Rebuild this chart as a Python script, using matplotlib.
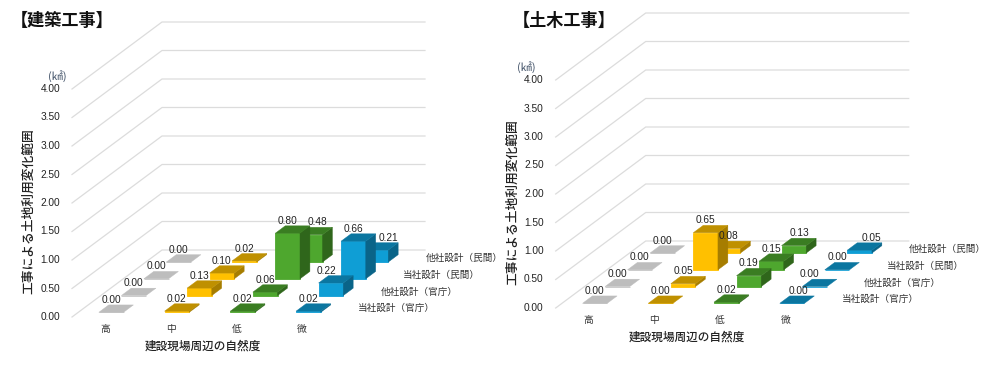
import matplotlib
matplotlib.use('Agg')
import matplotlib.pyplot as plt
from matplotlib.patches import Polygon

plt.rcParams['font.family'] = ['Noto Sans CJK JP', 'DejaVu Sans']

# Data
shizen = ['高', '中', '低', '微']
sekkei = ['当社設計（官庁）', '他社設計（官庁）', '当社設計（民間）', '他社設計（民間）']
y_ticks = [0.00, 0.50, 1.00, 1.50, 2.00, 2.50, 3.00, 3.50, 4.00]

# one list per 自然度, values run 官庁 -> 民間
kenchiku_taka = [0.00, 0.00, 0.00, 0.00]
kenchiku_naka = [0.02, 0.13, 0.10, 0.02]
kenchiku_hiku = [0.02, 0.06, 0.80, 0.48]
kenchiku_bi = [0.02, 0.22, 0.66, 0.21]

doboku_taka = [0.00, 0.00, 0.00, 0.00]
doboku_naka = [0.00, 0.05, 0.65, 0.08]
doboku_hiku = [0.02, 0.19, 0.15, 0.13]
doboku_bi = [0.00, 0.00, 0.00, 0.05]

# front, top, side
colors = [('#c4c4c4', '#bdbdbd', '#a6a6a6'),
          ('#ffc000', '#bf9000', '#a67d00'),
          ('#4ea72e', '#3a7d22', '#2f661b'),
          ('#0f9ed5', '#0b76a0', '#0a6488')]

# oblique projection, pixels per unit
COL_W = 65.75
ROW_DX = 22.5
ROW_DY = 16.75
UNIT = 57.0
BAR_W = 0.375
BAR_D = 0.44

# labels the original moved by hand: (col, row) -> x shift in px
nudge_kenchiku = {(2, 3): 7, (3, 3): 13, (3, 1): -4}
nudge_doboku = {(2, 3): 6, (3, 3): 12, (3, 1): -5, (3, 0): 6}

fig = plt.figure(figsize=(10, 3.72), dpi=100)
ax = fig.add_axes([0, 0, 1, 1])
ax.set_xlim(0, 1000)
ax.set_ylim(372, 0)
ax.axis('off')

NUM_FONT = ['Liberation Sans', 'DejaVu Sans']


def draw_panel(x0, y0, title, title_x, ylabel_x, unit_xy, values, nudge):
    def proj(c, r, v=0.0):
        return (x0 + c * COL_W + r * ROW_DX, y0 - r * ROW_DY - v * UNIT)

    n_col = len(shizen)
    n_row = len(sekkei)

    # walls
    for t in y_ticks:
        pts = [proj(0, 0, t), proj(0, n_row, t), proj(n_col, n_row, t)]
        ax.plot([p[0] for p in pts], [p[1] for p in pts], color='#dcdcdc', lw=0.9, zorder=1)
        ax.text(x0 - 12, y0 - t * UNIT, f'{t:.2f}', ha='right', va='center',
                fontsize=7.3, family=NUM_FONT, color='#222222')

    # bars, back row first
    for r in range(n_row - 1, -1, -1):
        for c in range(n_col):
            v = values[c][r]
            front, top, side = colors[c]
            c0 = c + 0.5 - BAR_W / 2
            c1 = c + 0.5 + BAR_W / 2
            r0 = r + 0.5 - BAR_D / 2
            r1 = r + 0.5 + BAR_D / 2
            z = 3 + (n_row - r)
            ax.add_patch(Polygon([proj(c0, r0), proj(c1, r0), proj(c1, r0, v), proj(c0, r0, v)],
                                 fc=front, ec=front, lw=0.6, zorder=z))
            if v > 0:
                ax.add_patch(Polygon([proj(c1, r0), proj(c1, r1), proj(c1, r1, v), proj(c1, r0, v)],
                                     fc=side, ec=side, lw=0.3, zorder=z))
            ax.add_patch(Polygon([proj(c0, r0, v), proj(c1, r0, v), proj(c1, r1, v), proj(c0, r1, v)],
                                 fc=top, ec=top, lw=0.3, zorder=z))
            lx = proj((c0 + c1) / 2, r0)[0] + nudge.get((c, r), 0)
            ly = proj(c0, r1, v)[1]
            ax.text(lx, ly - 5, f'{v:.2f}', ha='center', va='center',
                    fontsize=7.3, family=NUM_FONT, color='#222222', zorder=20)

    # category and series labels
    for c, name in enumerate(shizen):
        ax.text(x0 + (c + 0.5) * COL_W, y0 + 12, name, ha='center', va='center',
                fontsize=7, color='#333333')
    for r, name in enumerate(sekkei):
        ax.text(x0 + n_col * COL_W + 23 + r * ROW_DX, y0 - r * ROW_DY - 8.3, name,
                ha='left', va='center', fontsize=6.9, color='#333333')

    ax.text(x0 + 131, y0 + 29, '建設現場周辺の自然度', ha='center', va='center',
            fontsize=8.4, fontweight='medium', color='#222222')
    ax.text(ylabel_x, y0 - 106, '工事による土地利用変化範囲', rotation=90, ha='center', va='center',
            fontsize=9.2, fontweight='medium', color='#222222')
    ax.text(unit_xy[0], unit_xy[1], '(㎢)', ha='center', va='center', fontsize=8, color='#44546a')
    ax.text(title_x, 21, title, ha='left', va='center', fontsize=12.3, fontweight='bold', color='#111111')


draw_panel(72, 317, '【建築工事】', 11, 29, (57, 76),
           [kenchiku_taka, kenchiku_naka, kenchiku_hiku, kenchiku_bi], nudge_kenchiku)
draw_panel(555.7, 308, '【土木工事】', 513, 513, (526, 67),
           [doboku_taka, doboku_naka, doboku_hiku, doboku_bi], nudge_doboku)

fig.savefig('out.png', dpi=100)
